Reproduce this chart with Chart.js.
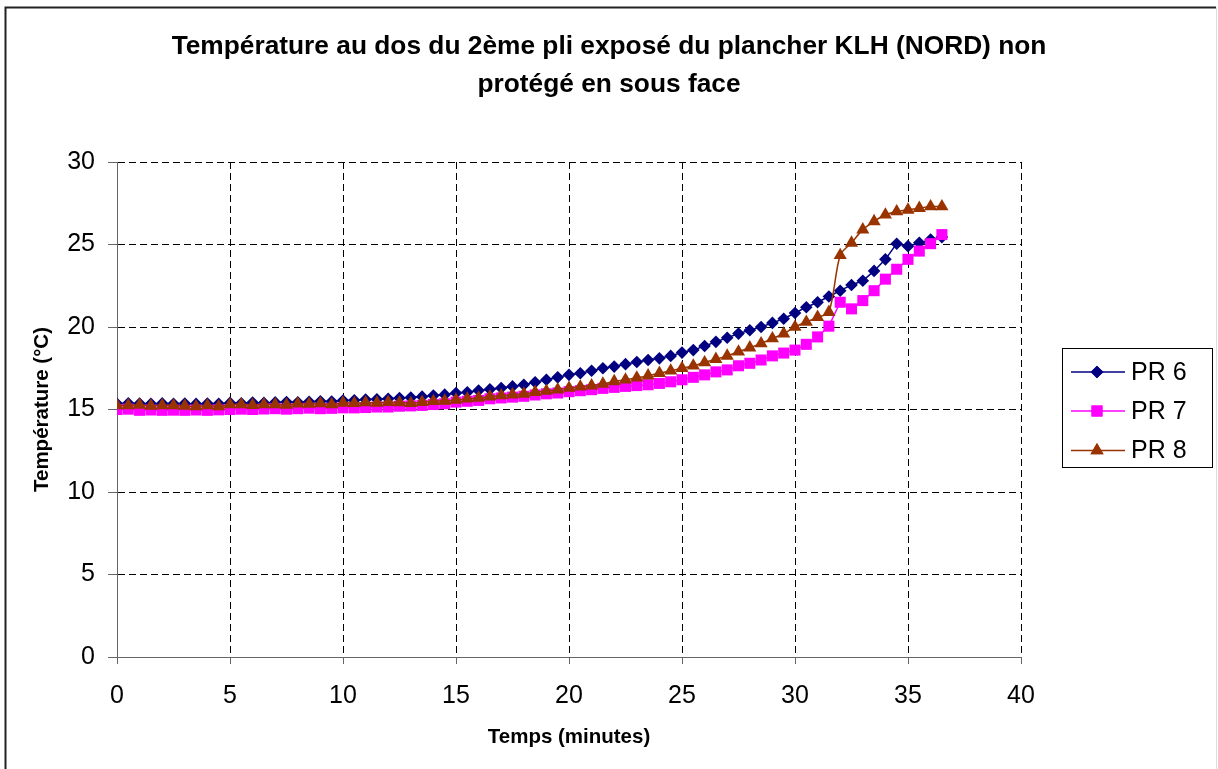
<!DOCTYPE html>
<html>
<head>
<meta charset="utf-8">
<script src="https://cdn.jsdelivr.net/npm/chart.js@4.4.0/dist/chart.umd.min.js"></script>
<style>
  html, body { margin: 0; padding: 0; background: #fff; }
  #wrap { width: 1218px; height: 769px; }
</style>
</head>
<body>
<div id="wrap"><canvas id="lineChart" width="1218" height="769"></canvas></div>
<script>
// time (minutes), one reading every 30 s
var times = [0,0.5,1,1.5,2,2.5,3,3.5,4,4.5,
  5,5.5,6,6.5,7,7.5,8,8.5,9,9.5,
  10,10.5,11,11.5,12,12.5,13,13.5,14,14.5,
  15,15.5,16,16.5,17,17.5,18,18.5,19,19.5,
  20,20.5,21,21.5,22,22.5,23,23.5,24,24.5,
  25,25.5,26,26.5,27,27.5,28,28.5,29,29.5,
  30,30.5,31,31.5,32,32.5,33,33.5,34,34.5,
  35,35.5,36,36.5];

var pr6 = [15.35,15.38,15.36,15.35,15.37,15.35,15.36,15.34,15.36,15.35,
  15.4,15.38,15.42,15.4,15.43,15.45,15.44,15.47,15.5,15.48,
  15.55,15.56,15.6,15.62,15.65,15.7,15.72,15.78,15.85,15.9,
  16.0,16.05,16.15,16.22,16.3,16.4,16.5,16.65,16.8,16.95,
  17.1,17.2,17.35,17.5,17.6,17.75,17.88,18.0,18.1,18.25,
  18.45,18.6,18.85,19.1,19.35,19.6,19.8,20.0,20.25,20.5,
  20.85,21.2,21.5,21.85,22.2,22.55,22.8,23.4,24.1,25.05,
  24.9,25.1,25.3,25.45];

var pr7 = [15.0,15.02,14.95,14.97,14.95,14.96,14.95,14.97,14.95,14.98,
  15.0,15.02,15.0,15.03,15.05,15.02,15.05,15.08,15.05,15.07,
  15.1,15.1,15.12,15.15,15.15,15.2,15.22,15.25,15.3,15.35,
  15.45,15.5,15.55,15.65,15.7,15.75,15.8,15.88,15.95,16.0,
  16.08,16.14,16.2,16.28,16.34,16.4,16.45,16.5,16.58,16.68,
  16.8,16.95,17.1,17.28,17.4,17.65,17.8,18.0,18.25,18.42,
  18.6,18.95,19.4,20.05,21.5,21.1,21.6,22.2,22.9,23.5,
  24.1,24.6,25.05,25.6];

var pr8 = [15.25,15.25,15.28,15.22,15.25,15.24,15.22,15.18,15.24,15.18,
  15.3,15.3,15.26,15.3,15.3,15.28,15.35,15.33,15.36,15.3,
  15.4,15.38,15.42,15.4,15.45,15.42,15.38,15.45,15.5,15.52,
  15.58,15.65,15.7,15.78,15.85,15.9,15.95,16.05,16.12,16.2,
  16.3,16.38,16.45,16.55,16.7,16.8,16.92,17.05,17.2,17.35,
  17.5,17.65,17.85,18.05,18.25,18.5,18.75,19.0,19.3,19.6,
  20.0,20.3,20.6,20.9,24.35,25.1,25.9,26.4,26.8,27.0,
  27.1,27.2,27.3,27.3];

var seriesNames = ['PR 6', 'PR 7', 'PR 8'];
var seriesColors = ['#000080', '#FF00FF', '#993300'];
var seriesMarkers = ['rectRot', 'rect', 'triangle'];
var markerSizes = [6.3, 7.8, 7.6];

function points(ys) {
  return times.map(function (t, i) { return {x: t, y: ys[i]}; });
}

var FONT = "'Liberation Sans', Arial, sans-serif";

// white page + outer frame
var frame = {
  id: 'frame',
  beforeDraw: function (chart) {
    var c = chart.ctx;
    c.save();
    c.fillStyle = '#fff';
    c.fillRect(0, 0, chart.width, chart.height);
    c.strokeStyle = '#222';
    c.lineWidth = 2;
    c.beginPath();
    c.moveTo(5.5, chart.height);
    c.lineTo(5.5, 7.5);
    c.lineTo(1216, 7.5);
    c.stroke();
    c.strokeStyle = '#ddd';
    c.lineWidth = 1;
    c.beginPath();
    c.moveTo(1216.5, 7.5);
    c.lineTo(1216.5, chart.height);
    c.stroke();
    c.restore();
  }
};

// boxed legend on the right, line + marker like the spreadsheet one
var boxLegend = {
  id: 'boxLegend',
  afterDraw: function (chart) {
    var c = chart.ctx;
    c.save();
    c.strokeStyle = '#000';
    c.lineWidth = 1;
    c.strokeRect(1062.5, 348.5, 150, 119);
    var rows = [372, 411, 450.5];
    for (var i = 0; i < seriesNames.length; i++) {
      c.strokeStyle = seriesColors[i];
      c.lineWidth = 1.5;
      c.beginPath();
      c.moveTo(1071, rows[i]);
      c.lineTo(1125, rows[i]);
      c.stroke();
      c.fillStyle = seriesColors[i];
      Chart.helpers.drawPoint(c, {pointStyle: seriesMarkers[i], radius: markerSizes[i], borderWidth: 0}, 1097, rows[i]);
      c.fill();
      c.fillStyle = '#000';
      c.font = '25px ' + FONT;
      c.textBaseline = 'middle';
      c.textAlign = 'left';
      c.fillText(seriesNames[i], 1131, rows[i] + 1);
    }
    c.restore();
  }
};

var datasets = [pr6, pr7, pr8].map(function (ys, i) {
  return {
    label: seriesNames[i],
    data: points(ys),
    borderColor: seriesColors[i],
    backgroundColor: seriesColors[i],
    pointBackgroundColor: seriesColors[i],
    pointBorderColor: seriesColors[i],
    pointBorderWidth: 0,
    pointStyle: seriesMarkers[i],
    pointRadius: markerSizes[i],
    borderWidth: 1.5,
    tension: i === 2 ? 0.3 : 0,
    order: 2 - i
  };
});

var ctx = document.getElementById('lineChart').getContext('2d');
var lineChart = new Chart(ctx, {
  type: 'line',
  data: { datasets: datasets },
  options: {
    responsive: false,
    animation: false,
    layout: { padding: 0 },
    plugins: {
      legend: { display: false },
      tooltip: { enabled: false },
      title: {
        display: true,
        text: ['Température au dos du 2ème pli exposé du plancher KLH (NORD) non', 'protégé en sous face'],
        color: '#000',
        font: { family: FONT, size: 26.3, weight: 'bold', lineHeight: 38 / 26.3 },
        padding: { top: 28, bottom: 58 }
      }
    },
    scales: {
      x: {
        type: 'linear',
        min: 0,
        max: 40,
        ticks: { stepSize: 5, color: '#000', padding: 17, font: { family: FONT, size: 25 } },
        grid: { color: '#000', tickColor: '#666', tickLength: 7 },
        border: { display: true, color: '#666', width: 1, dash: [7, 4] },
        title: {
          display: true,
          text: 'Temps (minutes)',
          color: '#000',
          font: { family: FONT, size: 20.5, weight: 'bold' },
          padding: { top: 0, bottom: 19 }
        },
        afterFit: function (scale) { scale.height = 112; }
      },
      y: {
        min: 0,
        max: 30,
        ticks: { stepSize: 5, color: '#000', padding: 13, font: { family: FONT, size: 25 } },
        grid: { color: '#000', tickColor: '#666', tickLength: 9 },
        border: { display: true, color: '#666', width: 1, dash: [7, 4] },
        title: {
          display: true,
          text: 'Température (°C)',
          color: '#000',
          font: { family: FONT, size: 20.5, weight: 'bold' },
          padding: { top: 30, bottom: 0 }
        },
        afterFit: function (scale) { scale.width = 117; }
      },
      // empty space kept free for the legend
      side: {
        position: 'right',
        display: true,
        ticks: { display: false },
        grid: { display: false },
        border: { display: false },
        afterFit: function (scale) { scale.width = 197; }
      }
    }
  },
  plugins: [frame, boxLegend]
});
</script>
</body>
</html>
